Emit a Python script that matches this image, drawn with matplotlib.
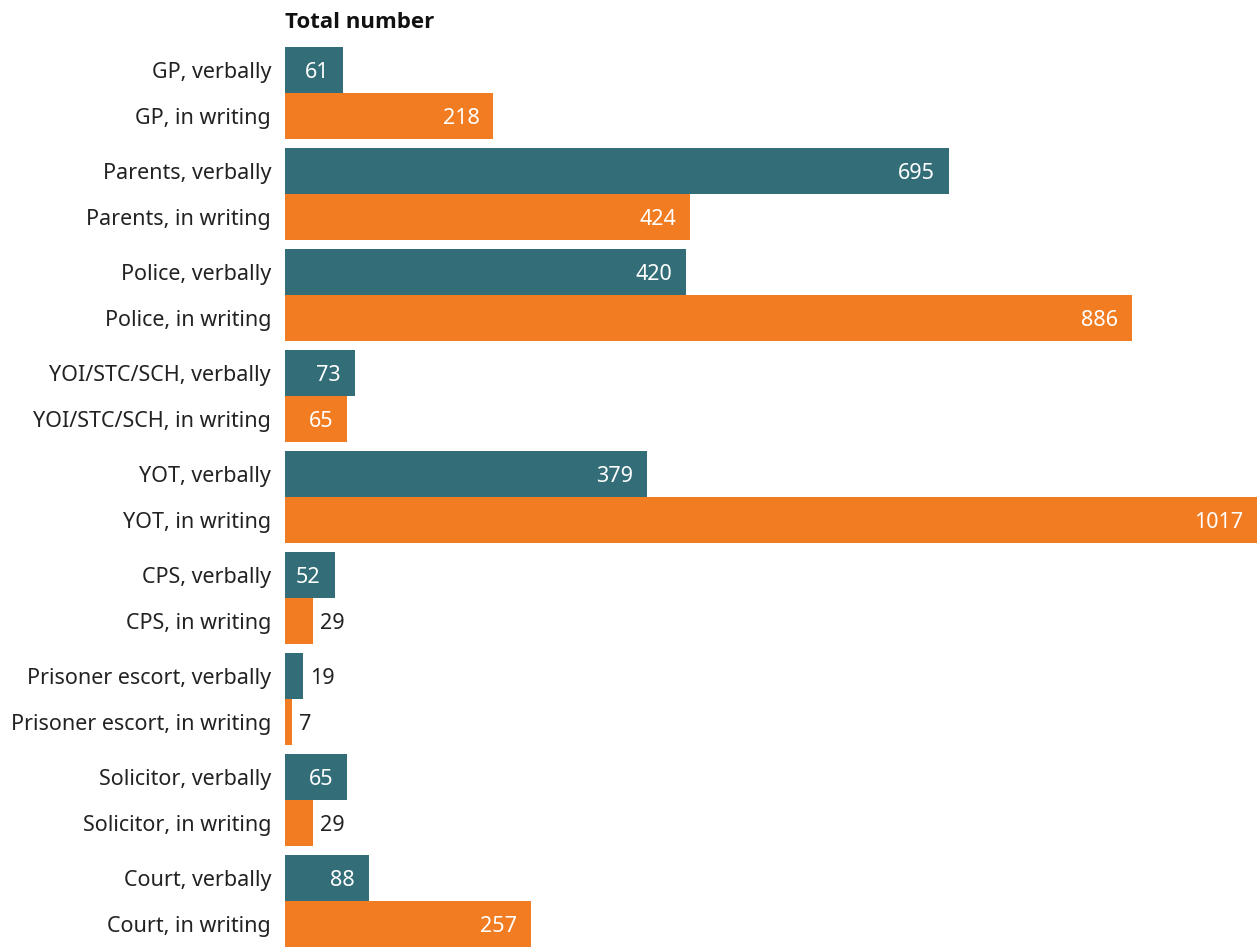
import matplotlib
matplotlib.use("Agg")
import matplotlib.pyplot as plt

plt.rcParams['font.family'] = ['Noto Sans', 'DejaVu Sans']

groups = ["GP", "Parents", "Police", "YOI/STC/SCH", "YOT", "CPS",
          "Prisoner escort", "Solicitor", "Court"]
verbally = [61, 695, 420, 73, 379, 52, 19, 65, 88]
in_writing = [218, 424, 886, 65, 1017, 29, 7, 29, 257]
title = "Total number"

TEAL = "#336e78"
ORANGE = "#f27c21"
TEXT = "#222222"
FS = 15.5

fig = plt.figure(figsize=(12.57, 9.47), dpi=100)
ax = fig.add_axes([285 / 1257, 0.0, 1 - 285 / 1257, 1 - 47 / 947])

h = 0.455
ys, vals, cols, labels = [], [], [], []
for i, g in enumerate(groups):
    ys += [i, i + h]
    vals += [verbally[i], in_writing[i]]
    cols += [TEAL, ORANGE]
    labels += [f"{g}, verbally", f"{g}, in writing"]

ax.barh(ys, vals, height=h, color=cols, edgecolor="none")
ax.set_ylim(len(groups) - 1 + h + h / 2, -h / 2)
ax.set_xlim(0, max(in_writing))

ax.set_yticks(ys)
ax.set_yticklabels(labels, fontsize=FS, color=TEXT)
ax.tick_params(axis="y", length=0, pad=10)
ax.set_xticks([])
for s in ax.spines.values():
    s.set_visible(False)

for y, v in zip(ys, vals):
    if v >= 50:
        ax.annotate(str(v), (v, y), xytext=(-10, -1.5), textcoords="offset points",
                    ha="right", va="center", fontsize=FS, color="white")
    else:
        ax.annotate(str(v), (v, y), xytext=(5, -1.5), textcoords="offset points",
                    ha="left", va="center", fontsize=FS, color=TEXT)

fig.text(285 / 1257, 1 - 22 / 947, title, fontsize=16, fontweight="bold",
         family=["Open Sans", "DejaVu Sans"], color="#111111",
         ha="left", va="center")

fig.savefig("out.png", dpi=100)
